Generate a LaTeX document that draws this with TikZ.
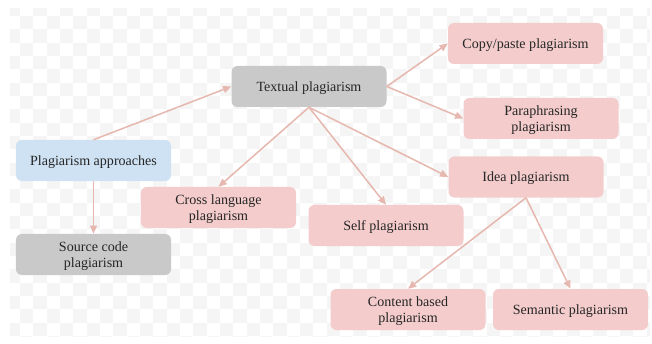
\documentclass[tikz,border=0pt]{standalone}
\usepackage{fontspec}
\setmainfont{Liberation Serif}
\usepackage{tikz}
\usetikzlibrary{arrows.meta, positioning, calc}
\definecolor{rootblue}{HTML}{CFE2F3}
\definecolor{catgray}{HTML}{C9C9C9}
\definecolor{leafpink}{HTML}{F4CCCC}
\definecolor{linkred}{HTML}{E6B8AF}
\definecolor{chkgray}{HTML}{F5F5F5}
\tikzset{
    % rounded box used for every approach
    approach/.style={rounded corners=5pt, align=center, text=black!85,
        minimum width=4.65cm, minimum height=1.23cm, inner sep=2pt,
        text depth=0pt, font=\fontsize{12}{14.2}\selectfont},
    % the three fill colours
    rootbox/.style={approach, fill=rootblue},
    catbox/.style={approach, fill=catgray},
    leafbox/.style={approach, fill=leafpink},
    % directed edges
    edge/.style={-{Triangle[length=7pt, width=6pt]}, linkred, line width=1.3pt},
}

\begin{document}
\begin{tikzpicture}[x=0.03cm, y=-0.03cm]
    \useasboundingbox (0,0) rectangle (652,344);

    % ===== faint checkered backdrop =====
    \begin{scope}
        \clip (10,9) rectangle (650,336);
        \foreach \i in {0,...,48} {
            \foreach \j in {0,...,25} {
                \ifodd\numexpr\i+\j\relax\else
                    \fill[chkgray] (6.67+\i*13.33, 2.67+\j*13.33) rectangle ++(13.33,13.33);
                \fi
            }
        }
    \end{scope}

    % ===== left column =====
    \node[rootbox] (appr)   at (93.5, 160.5) {Plagiarism approaches};
    \node[catbox]  (source) at (93.5, 254.5) {Source code\\plagiarism};

    % ===== textual branch =====
    \node[catbox]  (textual) at (309, 86.5)  {Textual plagiarism};
    \node[leafbox] (cross)   at (218.5, 207.5) {Cross language\\plagiarism};
    \node[leafbox] (self)    at (386, 225.5) {Self plagiarism};
    \node[leafbox] (copy)    at (525.5, 43.5) {Copy/paste plagiarism};
    \node[leafbox] (para)    at (541, 118.5) {Paraphrasing\\plagiarism};
    \node[leafbox] (idea)    at (526, 177)   {Idea plagiarism};

    % ===== idea branch =====
    \node[leafbox] (content)  at (408, 309.5)   {Content based\\plagiarism};
    \node[leafbox] (semantic) at (570.5, 309.5) {Semantic plagiarism};

    % ===== connectors =====
    \draw[edge] (appr.north) -- (textual.west);
    \draw[edge] (appr.south) -- (source.north);

    \draw[edge] (textual.south) -- (cross.north);
    \draw[edge] (textual.south) -- (self.north);
    \draw[edge] (textual.south) -- (idea.west);
    \draw[edge] (textual.east) -- (copy.west);
    \draw[edge] (textual.east) -- (para.west);

    \draw[edge] (idea.south) -- (content.north);
    \draw[edge] (idea.south) -- (semantic.north);

\end{tikzpicture}
\end{document}
